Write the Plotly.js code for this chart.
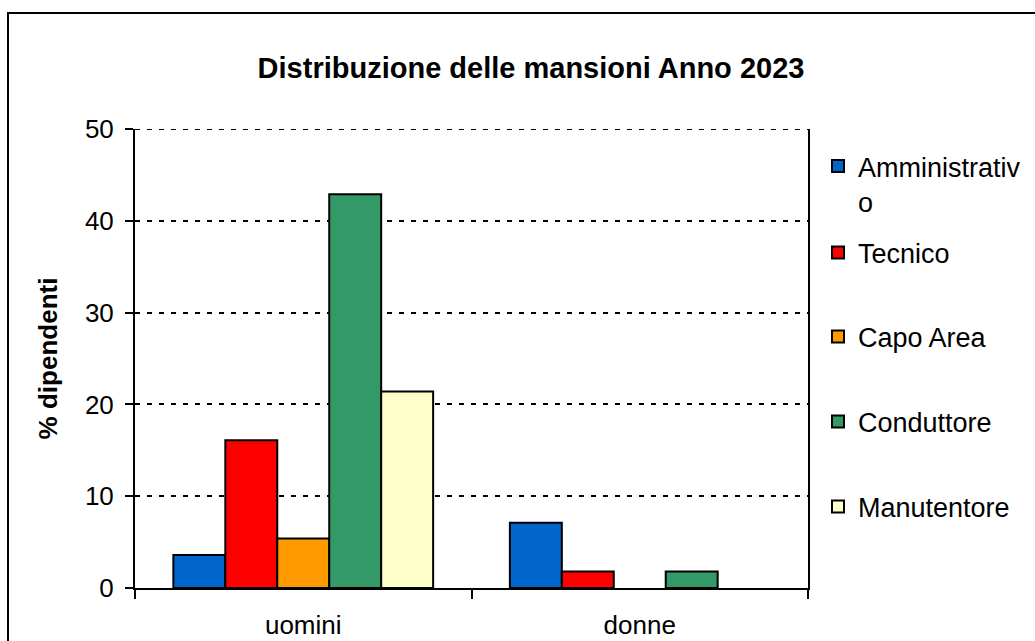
<!DOCTYPE html>
<html>
<head>
<meta charset="utf-8">
<script src="https://cdn.plot.ly/plotly-3.0.1.min.js"></script>
<style>
  html, body { margin: 0; padding: 0; background: #fff; }
  #chart { width: 1035px; height: 641px; }
</style>
</head>
<body>
<div id="chart"></div>
<script>
// ---- data ----
const categories = ['uomini', 'donne'];
const roles = ['Amministrativo', 'Tecnico', 'Capo Area', 'Conduttore', 'Manutentore'];
const legendLabels = ['Amministrativ<br>o', 'Tecnico', 'Capo Area', 'Conduttore', 'Manutentore'];
const uomini = [3.6, 16.1, 5.4, 42.9, 21.4];
const donne = [7.1, 1.8, 0, 1.8, 0];
const colors = ['#0066CC', '#FF0000', '#FF9900', '#339966', '#FFFFCC'];
const yTicks = [0, 10, 20, 30, 40, 50];

// ---- geometry (pixels) ----
const W = 1035, H = 641;
const M = { l: 135, r: 227, t: 129, b: 53 };
const PW = W - M.l - M.r, PH = H - M.t - M.b;
const px2paperX = px => (px - M.l) / PW;
const px2paperY = py => (H - M.b - py) / PH;
const FONT = 'Arial, "Liberation Sans", sans-serif';

const legendY = [184, 253, 337, 422, 507];
const legendNames = ['legend', 'legend2', 'legend3', 'legend4', 'legend5'];

const traces = roles.map((r, i) => {
  const vals = [uomini[i], donne[i]];
  return {
    type: 'bar',
    name: legendLabels[i],
    x: categories,
    y: vals,
    marker: { color: colors[i], line: { color: '#000', width: vals.map(v => v === 0 ? 0 : 2) } },
    legend: legendNames[i],
    showlegend: true,
    hovertemplate: r + ' %{x}: %{y}<extra></extra>'
  };
});

const layout = {
  width: W, height: H,
  margin: M,
  showlegend: true,
  paper_bgcolor: '#fff', plot_bgcolor: '#fff',
  font: { family: FONT, size: 26, color: '#000' },
  title: {
    text: 'Distribuzione delle mansioni Anno 2023',
    font: { family: FONT, size: 29, weight: 'bold', color: '#000' },
    xref: 'container', yref: 'container',
    x: 531 / W, xanchor: 'center',
    y: 1 - 68 / H, yanchor: 'middle'
  },
  barmode: 'group',
  bargap: 0.228,
  bargroupgap: 0,
  xaxis: {
    type: 'category',
    showline: true, linecolor: '#000', linewidth: 2,
    ticks: 'outside', ticklen: 9, tickwidth: 2, tickcolor: '#000',
    tickson: 'boundaries',
    showgrid: false, zeroline: false,
    tickfont: { family: FONT, size: 26, color: '#000' },
    ticklabelstandoff: 13
  },
  yaxis: {
    range: [0, 50],
    tickvals: yTicks,
    showline: true, linecolor: '#000', linewidth: 2, mirror: true,
    ticks: 'outside', ticklen: 8, tickwidth: 2, tickcolor: '#000',
    showgrid: true, gridcolor: '#000', gridwidth: 2, griddash: '5px,7px',
    zeroline: false,
    tickfont: { family: FONT, size: 26, color: '#000' },
    ticklabelstandoff: 6,
    title: {
      text: '% dipendenti',
      font: { family: FONT, size: 26, weight: 'bold', color: '#000' },
      standoff: 20
    }
  },
  shapes: [
    {
      type: 'line', xref: 'paper', yref: 'y',
      x0: 0, x1: 1, y0: yTicks[yTicks.length - 1], y1: yTicks[yTicks.length - 1],
      line: { color: '#000', width: 2, dash: '5px,7px' }, layer: 'above'
    },
    {
      type: 'rect', xref: 'paper', yref: 'paper',
      x0: px2paperX(8), x1: px2paperX(W + 20),
      y0: px2paperY(H + 20), y1: px2paperY(13),
      line: { color: '#000', width: 2 }, fillcolor: 'rgba(0,0,0,0)', layer: 'above'
    }
  ]
};

legendNames.forEach((ln, i) => {
  layout[ln] = {
    visible: true,
    xref: 'container', yref: 'container',
    x: 818 / W, xanchor: 'left',
    y: 1 - legendY[i] / H, yanchor: 'middle',
    valign: 'top',
    bgcolor: 'rgba(0,0,0,0)', borderwidth: 0,
    font: { family: FONT, size: 27, color: '#000' }
  };
});

Plotly.newPlot('chart', traces, layout, { displayModeBar: false, staticPlot: true });
</script>
</body>
</html>
